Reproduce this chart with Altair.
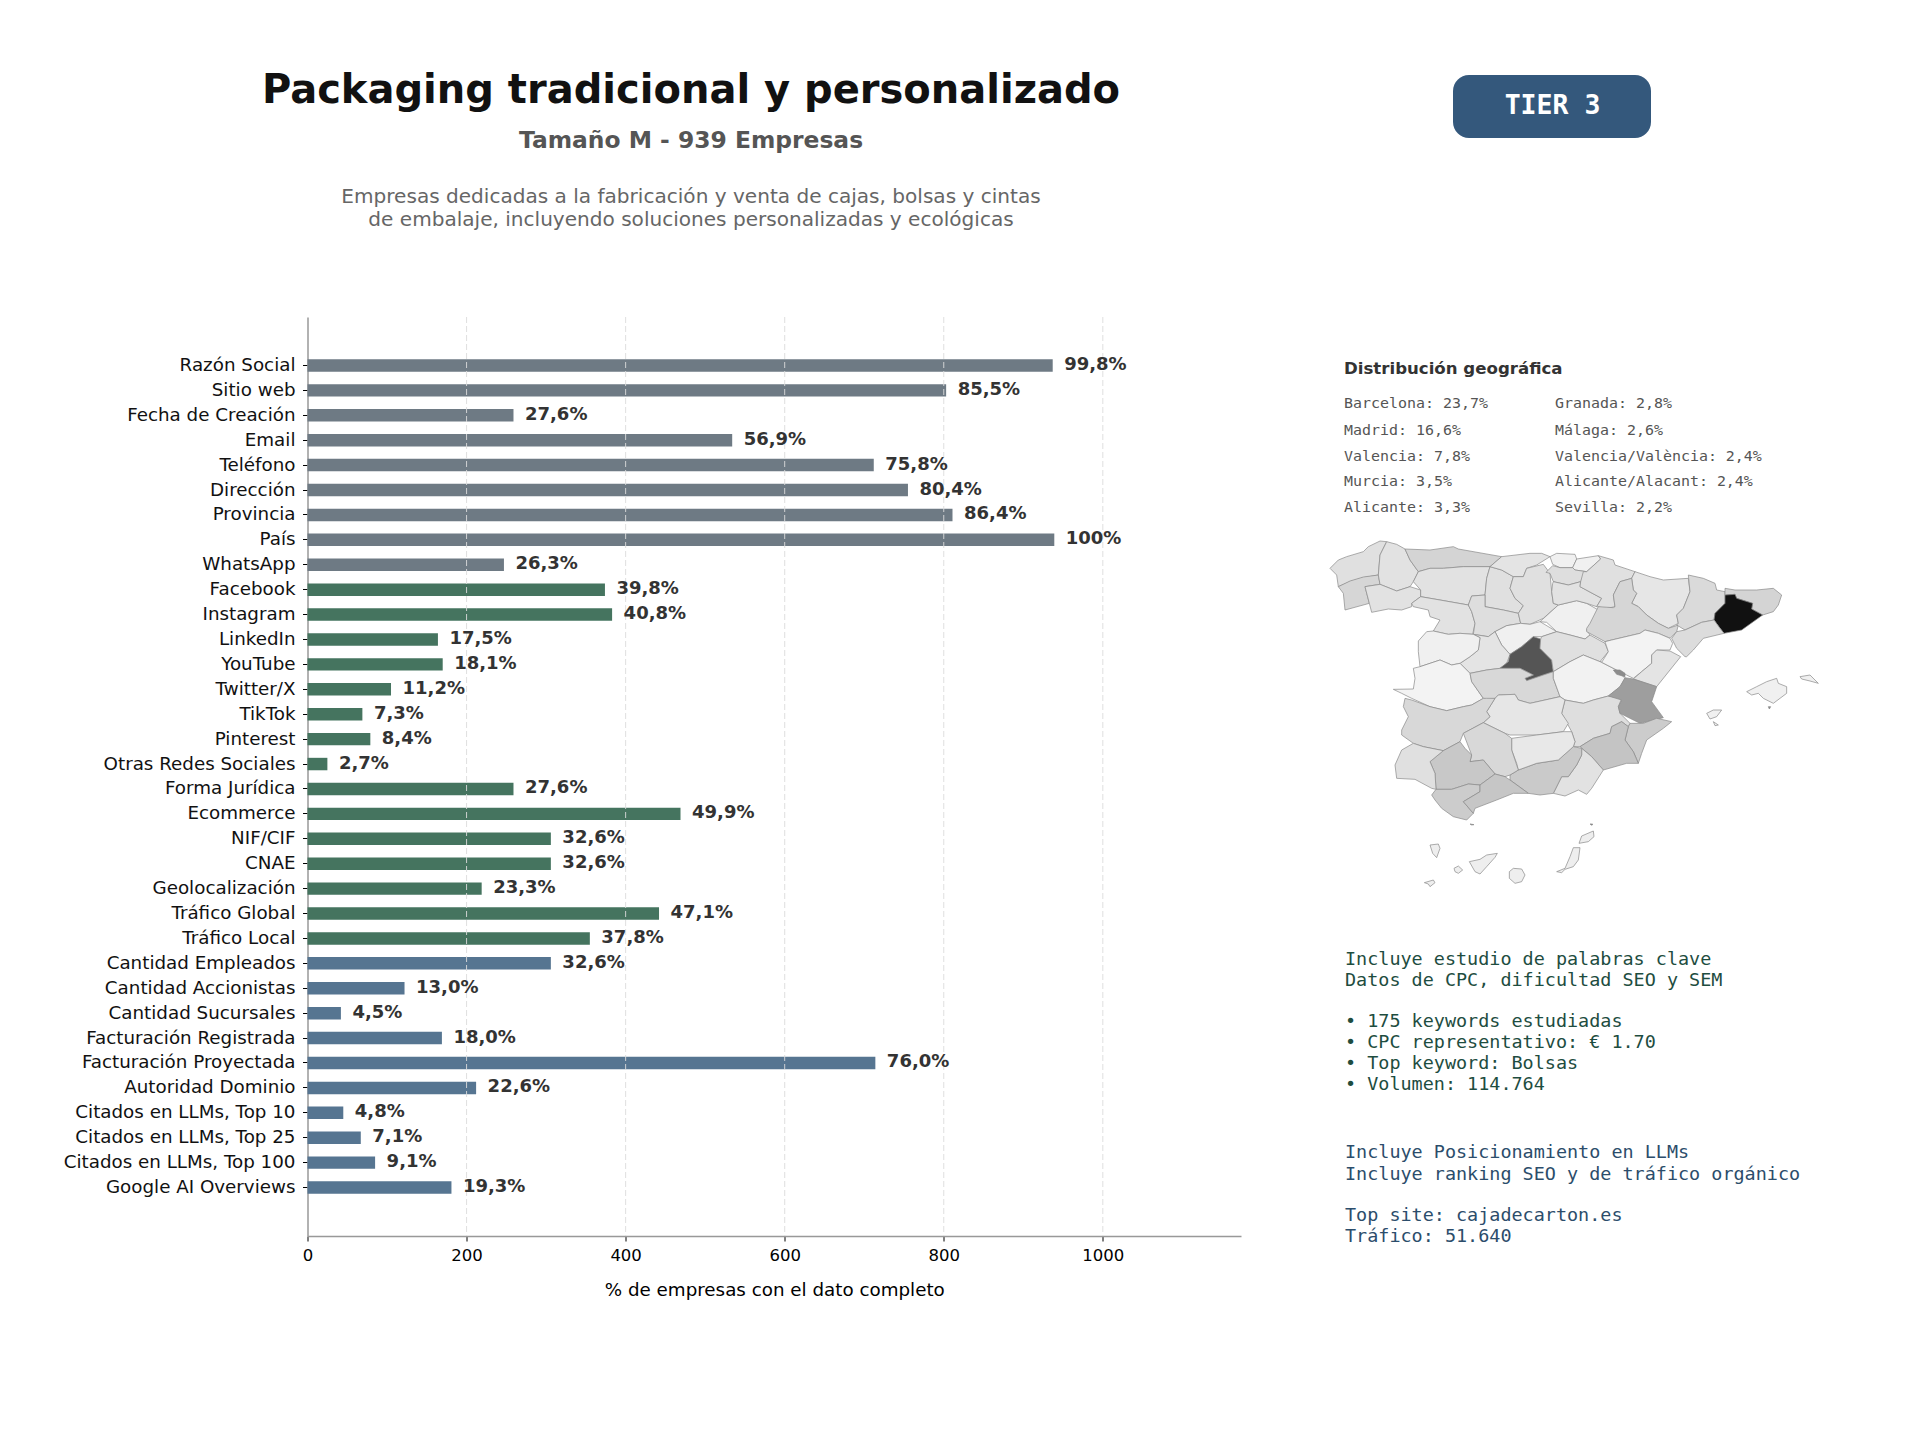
import altair as alt

categorias = ["Razón Social","Sitio web","Fecha de Creación","Email","Teléfono","Dirección","Provincia","País","WhatsApp",
"Facebook","Instagram","LinkedIn","YouTube","Twitter/X","TikTok","Pinterest","Otras Redes Sociales","Forma Jurídica","Ecommerce",
"NIF/CIF","CNAE","Geolocalización","Tráfico Global","Tráfico Local","Cantidad Empleados","Cantidad Accionistas","Cantidad Sucursales",
"Facturación Registrada","Facturación Proyectada","Autoridad Dominio","Citados en LLMs, Top 10","Citados en LLMs, Top 25","Citados en LLMs, Top 100","Google AI Overviews"]
valores = [937,803,259,534,712,755,811,939,247,374,383,164,170,105,69,79,25,259,469,306,306,219,442,355,306,122,42,169,714,212,45,67,85,181]
etiquetas = ["99,8%","85,5%","27,6%","56,9%","75,8%","80,4%","86,4%","100%","26,3%","39,8%","40,8%","17,5%","18,1%","11,2%","7,3%","8,4%","2,7%","27,6%","49,9%","32,6%","32,6%","23,3%","47,1%","37,8%","32,6%","13,0%","4,5%","18,0%","76,0%","22,6%","4,8%","7,1%","9,1%","19,3%"]
grupos = ["a"]*9 + ["b"]*15 + ["c"]*10
colores_grupo = ["#6e7a84","#45745f","#567591"]
ticks_x = [0,200,400,600,800,1000]
geo_izq = ["Barcelona: 23,7%","Madrid: 16,6%","Valencia: 7,8%","Murcia: 3,5%","Alicante: 3,3%"]
geo_der = ["Granada: 2,8%","Málaga: 2,6%","Valencia/València: 2,4%","Alicante/Alacant: 2,4%","Sevilla: 2,2%"]

# provincias: (gris, contorno) in three digitised frames
oeste = {
"Coruña":(224,[(0,100),(25,75),(50,65),(100,50),(115,35),(150,18),(170,20),(150,60),(145,120),(100,128),(60,140),(25,155),(20,120)]),
"Pontevedra":(214,[(25,155),(60,138),(100,126),(145,120),(150,148),(105,155),(118,205),(45,225),(40,175)]),
"Lugo":(226,[(170,20),(200,28),(225,42),(240,75),(265,110),(250,140),(240,155),(200,168),(150,148),(145,120),(150,60)]),
"Ourense":(226,[(105,155),(150,148),(200,168),(240,155),(272,165),(272,185),(245,205),(245,215),(215,225),(175,222),(125,232),(118,205)]),
"Asturias":(212,[(225,42),(300,45),(370,35),(385,42),(515,65),(480,95),(400,95),(340,100),(300,100),(265,110),(240,75)]),
"León":(226,[(265,110),(300,100),(340,100),(400,95),(480,95),(470,130),(465,180),(425,183),(415,210),(330,195),(272,185),(272,165),(250,140)]),
"Palencia":(224,[(480,95),(515,105),(550,125),(540,160),(555,190),(580,212),(565,235),(520,225),(465,215),(465,180),(470,130)]),
"Cantabria":(228,[(515,65),(600,55),(635,55),(660,65),(620,90),(590,100),(580,125),(550,125),(515,105),(480,95)]),
"Zamora":(226,[(245,205),(272,185),(330,195),(415,210),(425,230),(435,265),(428,298),(390,295),(355,298),(310,288),(330,255),(300,245),(295,225),(250,215)]),
"Valladolid":(222,[(425,183),(465,180),(465,215),(520,225),(565,235),(572,265),(530,272),(495,290),(475,305),(430,298),(435,265),(425,230),(415,210)]),
"Burgos":(224,[(590,100),(640,88),(660,115),(665,170),(670,205),(685,210),(640,250),(600,268),(572,265),(565,235),(580,212),(555,190),(540,160),(550,125),(580,125)]),
"Soria":(240,[(630,260),(685,210),(740,197),(770,205),(805,225),(780,270),(770,285),(780,300),(765,312),(720,300),(680,290),(650,262)]),
"Segovia":(240,[(495,290),(530,272),(572,265),(600,268),(630,260),(680,290),(635,305),(610,305),(575,335),(540,358),(515,330)]),
"Ávila":(228,[(430,298),(475,305),(495,290),(515,330),(540,358),(530,385),(510,400),(470,405),(420,415),(390,385),(420,365),(445,345),(450,308)]),
"Salamanca":(240,[(265,318),(290,290),(310,288),(355,298),(390,295),(430,298),(450,308),(445,345),(420,365),(390,385),(365,390),(330,375),(270,395),(265,350)]),
"Cáceres":(243,[(250,400),(270,395),(330,375),(365,390),(390,385),(420,415),(425,440),(460,490),(425,510),(400,515),(350,527),(300,515),(245,490),(215,475),(190,463),(250,462),(255,430)]),
"Madrid":(85,[(610,305),(632,312),(630,340),(665,375),(670,410),(640,420),(590,437),(585,430),(610,420),(570,400),(510,400),(535,380),(540,358),(575,335)]),
"Toledo":(216,[(420,415),(470,405),(510,400),(570,400),(610,420),(585,430),(590,437),(640,420),(670,410),(670,430),(690,485),(600,505),(565,495),(555,478),(505,480),(495,490),(470,495),(460,490),(425,440)]),
"Guadalajara":(224,[(635,305),(680,290),(720,300),(765,312),(780,300),(825,325),(835,350),(810,380),(815,382),(760,360),(720,380),(670,410),(665,375),(630,340),(632,312)]),
"Cuenca":(242,[(670,410),(720,380),(760,360),(815,382),(860,405),(885,430),(870,455),(835,483),(790,495),(760,505),(705,495),(690,485),(670,430)]),
"Albacete":(222,[(705,495),(760,505),(790,495),(835,483),(875,490),(865,515),(870,535),(900,565),(895,575),(875,560),(845,575),(840,595),(790,610),(750,635),(730,635),(735,620),(725,590),(695,535)]),
"Ciudad Real":(230,[(495,490),(505,480),(555,478),(565,495),(600,505),(690,485),(705,495),(695,535),(715,565),(700,590),(620,600),(540,600),(525,595),(460,563),(480,545),(470,530)]),
"Vizcaya":(240,[(660,65),(680,55),(735,58),(740,72),(728,98),(690,98),(668,88)]),
"Gipuzkoa":(240,[(728,98),(740,72),(805,62),(812,72),(770,110),(735,105)]),
"Álava":(222,[(648,112),(668,92),(690,98),(728,98),(735,105),(770,110),(752,140),(715,150),(670,140),(660,115)]),
"La Rioja":(226,[(668,145),(670,140),(715,150),(752,140),(750,155),(815,190),(800,215),(770,205),(740,197),(685,210),(670,205),(665,170)]),
}
este = {
"Navarra":(224,[(85,62),(130,75),(135,90),(195,110),(185,130),(150,140),(130,180),(135,215),(110,220),(80,215),(95,190),(30,155),(32,140),(40,110),(50,110),(92,72)]),
"Huesca":(230,[(195,110),(240,125),(280,135),(355,130),(360,170),(340,220),(320,240),(325,265),(295,280),(265,265),(230,240),(205,215),(185,205),(200,175),(190,165),(185,130)]),
"Zaragoza":(214,[(185,130),(190,165),(200,175),(185,205),(205,215),(230,240),(265,265),(295,280),(325,270),(320,290),(300,310),(265,295),(225,285),(210,295),(125,315),(105,320),(50,290),(50,280),(60,265),(85,215),(130,218),(135,215),(130,180),(150,140)]),
"Lleida":(218,[(355,120),(400,130),(435,145),(440,165),(465,170),(465,205),(435,235),(432,255),(395,262),(345,285),(320,270),(325,265),(320,240),(340,220),(360,170)]),
"Girona":(212,[(465,160),(495,165),(560,165),(610,160),(635,180),(625,210),(610,230),(578,240),(545,222),(548,205),(500,190),(495,178),(465,180)]),
"Barcelona":(17,[(465,180),(495,178),(500,190),(548,205),(545,222),(578,240),(515,285),(462,295),(450,280),(432,255),(435,235),(465,205)]),
"Tarragona":(220,[(432,255),(450,280),(462,295),(400,310),(370,345),(350,365),(345,365),(320,340),(305,310),(320,290),(345,285),(395,262)]),
"Teruel":(243,[(125,315),(210,295),(225,285),(265,295),(300,310),(308,325),(300,345),(260,345),(245,360),(245,385),(215,410),(190,430),(170,420),(140,405),(95,382),(115,350),(105,320)]),
"Castellón":(228,[(260,345),(300,348),(332,365),(260,455),(190,432),(215,410),(245,385),(245,360)]),
"Valencia":(158,[(165,428),(190,432),(260,455),(245,500),(280,548),(210,565),(150,535),(145,515),(155,495),(115,483),(150,455)]),
"Rincón de Ademuz":(140,[(130,405),(150,405),(165,415),(165,425),(140,418)]),
"Mallorca":(240,[(530,470),(560,455),(590,440),(620,430),(625,445),(650,455),(650,475),(630,490),(610,505),(580,490),(565,475),(545,480)]),
"Menorca":(240,[(690,425),(720,420),(745,445),(720,438),(695,432)]),
"Ibiza":(240,[(410,535),(430,525),(455,525),(440,545),(420,552)]),
"Formentera":(240,[(430,560),(445,570),(435,572)]),
"Cabrera":(140,[(595,515),(602,515),(598,522)]),
}
sur = {
"Badajoz":(216,[(75,-5),(95,0),(150,20),(200,32),(250,20),(275,15),(310,-5),(320,-5),(345,-5),(320,35),(330,50),(310,68),(250,100),(240,125),(190,152),(130,140),(100,130),(65,105),(65,90),(85,50),(70,20)]),
"Alicante":(204,[(750,70),(790,70),(830,55),(875,65),(850,85),(800,120),(785,160),(775,190),(760,155),(735,120),(745,80)]),
"Murcia":(196,[(600,140),(640,115),(690,100),(695,80),(725,65),(745,80),(735,120),(760,155),(775,190),(740,190),(670,210),(635,170)]),
"Almería":(226,[(605,145),(635,170),(670,210),(635,265),(620,283),(595,270),(555,288),(520,280),(545,230),(565,230),(590,195),(605,165)]),
"Granada":(202,[(390,225),(415,210),(470,190),(535,180),(580,140),(605,145),(605,165),(590,195),(565,230),(545,230),(520,280),(480,285),(445,280),(390,240)]),
"Jaén":(232,[(395,115),(470,105),(550,95),(575,95),(585,125),(580,140),(535,180),(470,190),(415,210),(410,190),(395,150)]),
"Córdoba":(216,[(250,100),(310,68),(375,100),(395,115),(395,150),(415,210),(390,225),(375,230),(345,222),(310,180),(270,185),(275,165)]),
"Sevilla":(200,[(150,185),(190,152),(240,125),(255,145),(275,165),(270,185),(310,180),(345,222),(300,255),(265,252),(215,268),(168,268),(165,220)]),
"Huelva":(224,[(45,195),(65,150),(100,130),(130,140),(190,152),(150,185),(165,220),(168,268),(155,265),(105,238),(50,235)]),
"Cádiz":(204,[(155,285),(168,268),(215,268),(265,252),(300,255),(300,275),(250,305),(280,340),(260,360),(220,350),(185,325),(165,300)]),
"Málaga":(198,[(250,305),(300,275),(300,255),(345,222),(375,230),(390,240),(445,280),(400,280),(350,300),(285,325),(280,340)]),
"La Palma":(238,[(150,435),(175,432),(180,445),(170,473),(158,460)]),
"El Hierro":(238,[(133,548),(160,540),(165,548),(150,560),(145,552)]),
"La Gomera":(238,[(222,505),(235,498),(248,510),(235,520),(225,515)]),
"Tenerife":(238,[(268,485),(300,478),(320,465),(352,460),(345,472),(320,500),(300,522),(285,515)]),
"Gran Canaria":(238,[(388,515),(400,505),(425,507),(435,525),(425,545),(405,550),(388,535)]),
"Fuerteventura":(238,[(530,515),(555,505),(570,470),(580,443),(600,443),(595,480),(580,500),(555,508),(545,518)]),
"Lanzarote":(238,[(597,430),(605,408),(640,393),(642,410),(625,425)]),
"Graciosa":(120,[(630,372),(638,372),(636,376)]),
"Ceuta":(120,[(270,372),(282,374),(275,375)]),
}
rasgos = []
for grupo, (ox, oy) in ((oeste,(0,0)),(este,(720,0)),(sur,(150,495))):
    for nombre,(g,pts) in grupo.items():
        anillo = [[x+ox,y+oy] for x,y in pts]
        anillo.append(anillo[0])
        rasgos.append({"type":"Feature","geometry":{"type":"Polygon","coordinates":[anillo]},
                       "properties":{"nombre":nombre,"fill":f"rgb({g},{g},{g})"}})

ORIGEN_X, ORIGEN_Y = 307.5, 317
AN, AL = 933.5, 919
XMAX = 939*1.25

def texto(s, x, y, **kw):
    return alt.Chart(alt.Data(values=[{"t":s}])).mark_text(baseline="middle", **kw).encode(
        x=alt.value(x-ORIGEN_X), y=alt.value(y-ORIGEN_Y), text="t:N")

tabla = alt.Data(values=[{"c":c,"v":v,"e":e,"g":g} for c,v,e,g in zip(categorias,valores,etiquetas,grupos)])
esc_y = alt.Scale(domain=["_ini"]+categorias+["_fin"], paddingInner=0.5, paddingOuter=0.695)
esc_x = alt.Scale(domain=[0,XMAX], nice=False, zero=False)

barras = alt.Chart(tabla).mark_bar().encode(
    x=alt.X("v:Q", scale=esc_x, title="% de empresas con el dato completo",
            axis=alt.Axis(values=ticks_x, format="d", labelFlush=False, grid=False, domainColor="#999999", domainWidth=1.5, tickColor="#000000",
                          tickSize=5, labelFontSize=16.5, labelColor="#000000", labelPadding=6, titleFontSize=18.3,
                          titleFontWeight="normal", titleColor="#000000", titlePadding=18, labelFont="DejaVu Sans", titleFont="DejaVu Sans")),
    y=alt.Y("c:N", scale=esc_y, title=None,
            axis=alt.Axis(values=categorias, domainColor="#999999", domainWidth=1.5, tickColor="#000000", tickSize=5, labelFontSize=18.3,
                          labelColor="#111111", labelPadding=7.5, labelOffset=0.5, labelFont="DejaVu Sans", labelLimit=400)),
    color=alt.Color("g:N", scale=alt.Scale(domain=["a","b","c"], range=colores_grupo), legend=None),
)
rejilla = alt.Chart(alt.Data(values=[{"x":t} for t in ticks_x[1:]])).mark_rule(
    color="#dcdcdc", strokeDash=[6,3], strokeWidth=1, opacity=0.9).encode(x=alt.X("x:Q", scale=esc_x))
rotulos = alt.Chart(tabla).mark_text(align="left", baseline="middle", dx=11.5, dy=-0.5, fontSize=18, fontWeight="bold",
                                     color="#333333", font="DejaVu Sans").encode(
    x=alt.X("v:Q", scale=esc_x), y=alt.Y("c:N", scale=esc_y), text="e:N")

mapa = alt.Chart(alt.Data(values=rasgos)).mark_geoshape(stroke="#8a8a8a", strokeWidth=0.7, clip=False).encode(
    fill=alt.Fill("properties.fill:N", scale=None)
).project(type="identity", scale=1/3, translate=[1330-ORIGEN_X, 535-ORIGEN_Y])

insignia = alt.Chart(alt.Data(values=[{"t":"TIER 3"}])).mark_rect(cornerRadius=16, color="#34587c").encode(
    x=alt.value(1453-ORIGEN_X), x2=alt.value(1651-ORIGEN_X), y=alt.value(75-ORIGEN_Y), y2=alt.value(138-ORIGEN_Y))

SANS, MONO = "DejaVu Sans", "DejaVu Sans Mono"
capas = [barras, rejilla, rotulos, mapa, insignia,
    texto("TIER 3",1552.5,106,font=MONO,fontSize=26.5,fontWeight="bold",color="#ffffff",align="center"),
    texto("Packaging tradicional y personalizado",691,90.5,font=SANS,fontSize=40,fontWeight="bold",color="#111111",align="center"),
    texto("Tamaño M - 939 Empresas",691,141,font=SANS,fontSize=23.4,fontWeight="bold",color="#555555",align="center"),
    texto("Empresas dedicadas a la fabricación y venta de cajas, bolsas y cintas",691,197,font=SANS,fontSize=20.07,color="#666666",align="center"),
    texto("de embalaje, incluyendo soluciones personalizadas y ecológicas",691,220,font=SANS,fontSize=20.07,color="#666666",align="center"),
    texto("Distribución geográfica",1344,368.5,font=SANS,fontSize=16.6,fontWeight="bold",color="#333333",align="left"),
]
for col, xx in ((geo_izq,1344),(geo_der,1555)):
    for s, yy in zip(col,(404,431,456.5,482,508)):
        capas.append(texto(s,xx,yy,font=MONO,fontSize=14.95,color="#555555",align="left"))
for s, yy in (("Incluye estudio de palabras clave",959),("Datos de CPC, dificultad SEO y SEM",980),
              ("• 175 keywords estudiadas",1021),("• CPC representativo: € 1.70",1042),("• Top keyword: Bolsas",1063),("• Volumen: 114.764",1084)):
    capas.append(texto(s,1345,yy,font=MONO,fontSize=18.45,color="#1e4d3f",align="left"))
for s, yy in (("Incluye Posicionamiento en LLMs",1152),("Incluye ranking SEO y de tráfico orgánico",1173.5),
              ("Top site: cajadecarton.es",1215),("Tráfico: 51.640",1236)):
    capas.append(texto(s,1345,yy,font=MONO,fontSize=18.45,color="#2c4d6b",align="left"))

chart = alt.layer(*capas).properties(
    width=AN, height=AL,
    autosize=alt.AutoSizeParams(type="none"),
    padding={"left":ORIGEN_X-8,"top":ORIGEN_Y-8,"right":1920-ORIGEN_X-AN-8,"bottom":1440-ORIGEN_Y-AL-8},
    background="#ffffff",
).configure_view(fill="#fdfdfd", stroke=None)

chart.save("out.html", embed_options={"renderer":"svg","actions":False})
